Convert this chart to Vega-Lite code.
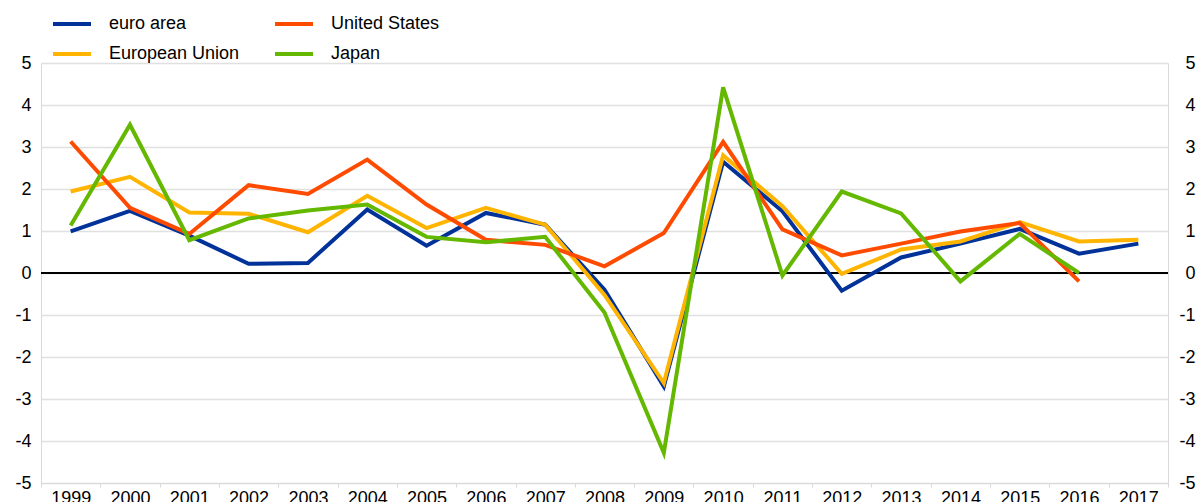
{
  "$schema": "https://vega.github.io/schema/vega-lite/v6.json",
  "width": 1127,
  "height": 420,
  "autosize": {"type": "none"},
  "padding": {"left": 41, "top": 63, "right": 28, "bottom": 19},
  "background": "white",
  "config": {
    "view": {"stroke": null},
    "font": "Liberation Sans",
    "axis": {"labelFont": "Liberation Sans", "labelFontSize": 18, "labelColor": "#000000", "domainColor": "#d9d9d9", "tickColor": "#d9d9d9", "gridColor": "#e0e0e0", "gridWidth": 1.3}
  },
  "datasets": {
    "main": [
      {"year": "1999", "series": "euro area", "value": 0.99},
      {"year": "2000", "series": "euro area", "value": 1.48},
      {"year": "2001", "series": "euro area", "value": 0.89},
      {"year": "2002", "series": "euro area", "value": 0.22},
      {"year": "2003", "series": "euro area", "value": 0.24},
      {"year": "2004", "series": "euro area", "value": 1.51},
      {"year": "2005", "series": "euro area", "value": 0.65},
      {"year": "2006", "series": "euro area", "value": 1.43},
      {"year": "2007", "series": "euro area", "value": 1.15},
      {"year": "2008", "series": "euro area", "value": -0.40},
      {"year": "2009", "series": "euro area", "value": -2.70},
      {"year": "2010", "series": "euro area", "value": 2.65},
      {"year": "2011", "series": "euro area", "value": 1.47},
      {"year": "2012", "series": "euro area", "value": -0.42},
      {"year": "2013", "series": "euro area", "value": 0.37},
      {"year": "2014", "series": "euro area", "value": 0.70},
      {"year": "2015", "series": "euro area", "value": 1.05},
      {"year": "2016", "series": "euro area", "value": 0.46},
      {"year": "2017", "series": "euro area", "value": 0.70},
      {"year": "1999", "series": "European Union", "value": 1.94},
      {"year": "2000", "series": "European Union", "value": 2.29},
      {"year": "2001", "series": "European Union", "value": 1.44},
      {"year": "2002", "series": "European Union", "value": 1.41},
      {"year": "2003", "series": "European Union", "value": 0.97},
      {"year": "2004", "series": "European Union", "value": 1.84},
      {"year": "2005", "series": "European Union", "value": 1.07},
      {"year": "2006", "series": "European Union", "value": 1.55},
      {"year": "2007", "series": "European Union", "value": 1.15},
      {"year": "2008", "series": "European Union", "value": -0.52},
      {"year": "2009", "series": "European Union", "value": -2.62},
      {"year": "2010", "series": "European Union", "value": 2.80},
      {"year": "2011", "series": "European Union", "value": 1.59},
      {"year": "2012", "series": "European Union", "value": -0.02},
      {"year": "2013", "series": "European Union", "value": 0.56},
      {"year": "2014", "series": "European Union", "value": 0.75},
      {"year": "2015", "series": "European Union", "value": 1.21},
      {"year": "2016", "series": "European Union", "value": 0.75},
      {"year": "2017", "series": "European Union", "value": 0.79},
      {"year": "1999", "series": "United States", "value": 3.13},
      {"year": "2000", "series": "United States", "value": 1.55},
      {"year": "2001", "series": "United States", "value": 0.93},
      {"year": "2002", "series": "United States", "value": 2.09},
      {"year": "2003", "series": "United States", "value": 1.88},
      {"year": "2004", "series": "United States", "value": 2.70},
      {"year": "2005", "series": "United States", "value": 1.63},
      {"year": "2006", "series": "United States", "value": 0.79},
      {"year": "2007", "series": "United States", "value": 0.67},
      {"year": "2008", "series": "United States", "value": 0.16},
      {"year": "2009", "series": "United States", "value": 0.95},
      {"year": "2010", "series": "United States", "value": 3.12},
      {"year": "2011", "series": "United States", "value": 1.04},
      {"year": "2012", "series": "United States", "value": 0.42},
      {"year": "2013", "series": "United States", "value": 0.70},
      {"year": "2014", "series": "United States", "value": 0.99},
      {"year": "2015", "series": "United States", "value": 1.19},
      {"year": "2016", "series": "United States", "value": -0.20},
      {"year": "1999", "series": "Japan", "value": 1.13},
      {"year": "2000", "series": "Japan", "value": 3.53},
      {"year": "2001", "series": "Japan", "value": 0.78},
      {"year": "2002", "series": "Japan", "value": 1.30},
      {"year": "2003", "series": "Japan", "value": 1.49},
      {"year": "2004", "series": "Japan", "value": 1.63},
      {"year": "2005", "series": "Japan", "value": 0.86},
      {"year": "2006", "series": "Japan", "value": 0.73},
      {"year": "2007", "series": "Japan", "value": 0.86},
      {"year": "2008", "series": "Japan", "value": -0.94},
      {"year": "2009", "series": "Japan", "value": -4.28},
      {"year": "2010", "series": "Japan", "value": 4.42},
      {"year": "2011", "series": "Japan", "value": -0.06},
      {"year": "2012", "series": "Japan", "value": 1.94},
      {"year": "2013", "series": "Japan", "value": 1.42},
      {"year": "2014", "series": "Japan", "value": -0.20},
      {"year": "2015", "series": "Japan", "value": 0.93},
      {"year": "2016", "series": "Japan", "value": 0.0}
    ]
  },
  "data": {"name": "main"},
  "layer": [
    {
      "mark": {"type": "rule", "color": "#000000", "strokeWidth": 1.5},
      "encoding": {
        "y": {"datum": 0, "type": "quantitative", "scale": {"domain": [-5, 5], "nice": false, "zero": false},
          "axis": {"orient": "right", "title": null, "values": [-5, -4, -3, -2, -1, 0, 1, 2, 3, 4, 5], "labelExpr": "'' + datum.value", "grid": false, "ticks": false, "labelPadding": 27, "labelAlign": "right", "domain": true}}
      }
    },
    {
      "mark": {"type": "line", "strokeWidth": 4, "strokeJoin": "miter", "strokeCap": "butt"},
      "encoding": {
        "x": {"field": "year", "type": "ordinal", "bandPosition": 0.5,
          "scale": {"type": "band", "paddingInner": 0, "paddingOuter": 0},
          "axis": {"title": null, "labelAngle": 0, "tickBand": "extent", "tickSize": 4, "labelPadding": 2, "grid": false, "domain": true}},
        "y": {"field": "value", "type": "quantitative", "scale": {"domain": [-5, 5], "nice": false, "zero": false},
          "axis": {"orient": "left", "title": null, "values": [-5, -4, -3, -2, -1, 0, 1, 2, 3, 4, 5], "labelExpr": "'' + datum.value", "grid": true, "ticks": false, "labelPadding": 10, "domain": true}},
        "color": {"field": "series", "type": "nominal",
          "scale": {"domain": ["euro area", "United States", "European Union", "Japan"], "range": ["#003299", "#FF4B00", "#FFB400", "#65B800"]},
          "legend": {"title": null, "orient": "none", "legendX": 10, "legendY": -60, "direction": "horizontal", "columns": 2,
            "symbolType": "stroke", "symbolStrokeWidth": 4, "symbolSize": 1444, "labelFontSize": 18, "labelFont": "Liberation Sans", "labelColor": "#000000",
            "labelOffset": 16, "columnPadding": 27, "rowPadding": -25, "padding": 0}},
        "detail": {"field": "series"}
      }
    }
  ],
  "resolve": {"scale": {"y": "shared"}, "axis": {"y": "independent"}}
}
